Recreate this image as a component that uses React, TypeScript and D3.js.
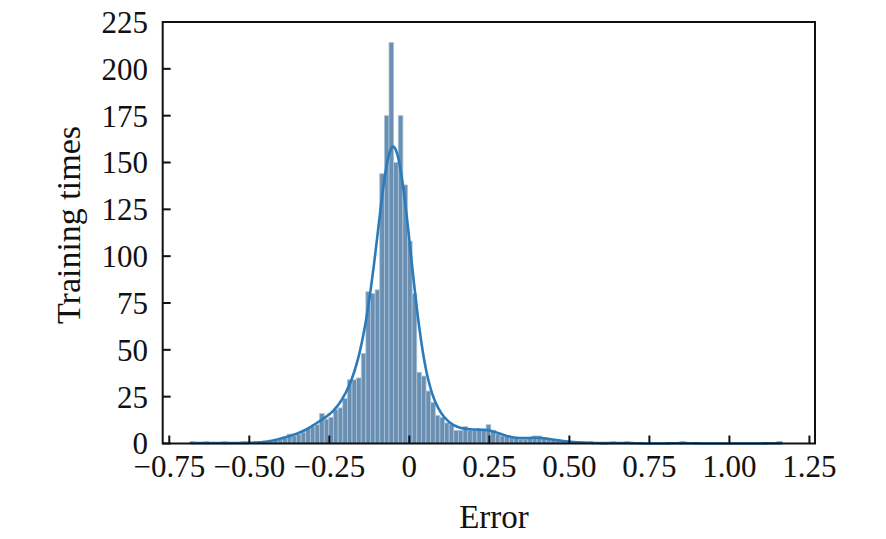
import React from "react";
import * as d3 from "d3";

// Histogram: 128 equal bins spanning the error data range
const binStart = -0.685;
const binEnd = 1.165;
const binCounts = [
  1, 0, 0, 1, 0, 0, 0, 1, 0, 0, 0, 1, 0, 0, 1, 0,
  1, 1, 2, 2, 3, 5, 4, 5, 6, 8, 9, 10, 16, 13, 14, 18,
  19, 24, 34, 34, 35, 48, 81, 80, 82, 144, 175, 214, 150, 175, 138, 108,
  80, 38, 36, 28, 22, 15, 14, 11, 10, 7, 7, 9, 7, 7, 7, 7,
  10, 7, 5, 4, 4, 3, 3, 2, 2, 3, 4, 4, 3, 2, 2, 2,
  1, 1, 1, 0, 1, 0, 1, 0, 0, 0, 0, 1, 0, 0, 1, 0,
  0, 0, 0, 0, 0, 0, 0, 0, 0, 0, 1, 0, 0, 0, 0, 0,
  0, 0, 0, 0, 0, 0, 0, 0, 0, 0, 0, 0, 0, 0, 0, 1,
];

const xTicks = [-0.75, -0.5, -0.25, 0, 0.25, 0.5, 0.75, 1.0, 1.25];
const xTickLabels = ["\u22120.75", "\u22120.50", "\u22120.25", "0", "0.25", "0.50", "0.75", "1.00", "1.25"];
const yTicks = [0, 25, 50, 75, 100, 125, 150, 175, 200, 225];
const yTickLabels = ["0", "25", "50", "75", "100", "125", "150", "175", "200", "225"];
const xLabel = "Error";
const yLabel = "Training times";

const W = 886;
const H = 539;
const left = 162.7;
const right = 815;
const top = 22;
const bottom = 443.5;
const FONT = "'Liberation Serif', 'Times New Roman', serif";
const FS = 31;

export default function App() {
  const x = d3.scaleLinear().domain([-0.7706, 1.2674]).range([left, right]);
  const y = d3.scaleLinear().domain([0, 225]).range([bottom, top]);
  const nb = binCounts.length;
  const bw = (binEnd - binStart) / nb;
  const bins = binCounts.map((c, i) => ({ x0: binStart + i * bw, x1: binStart + (i + 1) * bw, c }));

  // Gaussian KDE from the binned data, scaled to counts
  const h = 0.03;
  const samples = d3.range(0, 401).map((i) => binStart + (i / 400) * (binEnd - binStart));
  const kde = samples.map((sx) => {
    let s = 0;
    bins.forEach((b) => {
      const cx = (b.x0 + b.x1) / 2;
      const u = (sx - cx) / h;
      s += b.c * Math.exp(-0.5 * u * u) / Math.sqrt(2 * Math.PI);
    });
    return [sx, (s * bw) / h] as [number, number];
  });
  const line = d3
    .line<[number, number]>()
    .x((d) => x(d[0]))
    .y((d) => y(d[1]))
    .curve(d3.curveBasis);

  return (
    <svg width={W} height={H} style={{ position: "absolute", left: 0, top: 0, background: "#fff" }}>
      <g>
        {bins.map((b, i) =>
          b.c > 0 ? (
            <rect
              key={i}
              x={x(b.x0)}
              y={y(b.c)}
              width={x(b.x1) - x(b.x0)}
              height={bottom - y(b.c)}
              fill="#6b8fb1"
              stroke="#a9c4dc"
              strokeWidth={0.8}
            />
          ) : null
        )}
      </g>
      <path d={line(kde) || ""} fill="none" stroke="#2a7bbb" strokeWidth={2.6} />
      <rect x={left} y={top} width={right - left} height={bottom - top} fill="none" stroke="#111" strokeWidth={2} />
      {xTicks.map((t, i) => (
        <g key={i}>
          <line x1={x(t)} x2={x(t)} y1={bottom} y2={bottom - 8} stroke="#111" strokeWidth={2} />
          <text x={x(t)} y={477} textAnchor="middle" fontFamily={FONT} fontSize={FS} fill="#111">
            {xTickLabels[i]}
          </text>
        </g>
      ))}
      {yTicks.map((t, i) => (
        <g key={i}>
          <line x1={left} x2={left + 8} y1={y(t)} y2={y(t)} stroke="#111" strokeWidth={2} />
          <text x={148} y={y(t)} dy="0.35em" textAnchor="end" fontFamily={FONT} fontSize={FS} fill="#111">
            {yTickLabels[i]}
          </text>
        </g>
      ))}
      <text x={494} y={528} textAnchor="middle" fontFamily={FONT} fontSize={33} fill="#111">
        {xLabel}
      </text>
      <text
        transform={`translate(80, 225) rotate(-90)`}
        textAnchor="middle"
        fontFamily={FONT}
        fontSize={34}
        fill="#111"
      >
        {yLabel}
      </text>
    </svg>
  );
}
